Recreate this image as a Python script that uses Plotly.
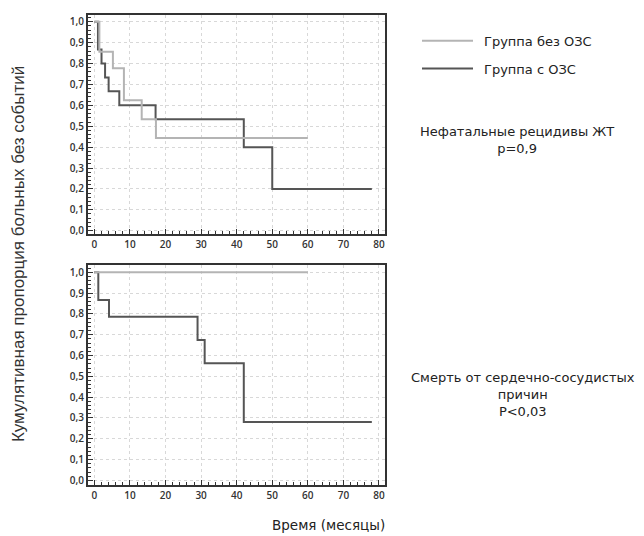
import plotly.graph_objects as go

# ---- data ----
top_light_t = [0, 1.4, 5.2, 8.3, 13.3, 17.3, 60]
top_light_s = [1.0, 0.857, 0.778, 0.625, 0.533, 0.444, 0.444]
top_dark_t = [0, 1, 2, 3, 4, 7, 17.2, 42, 50, 78]
top_dark_s = [1.0, 0.867, 0.80, 0.733, 0.667, 0.60, 0.533, 0.40, 0.20, 0.20]
bot_light_t = [0, 60]
bot_light_s = [1.0, 1.0]
bot_dark_t = [0, 1.1, 4.1, 29, 31, 42, 78]
bot_dark_s = [1.0, 0.867, 0.786, 0.675, 0.5625, 0.281, 0.281]

legend_names = ["Группа без ОЗС", "Группа с ОЗС"]
top_label = "Нефатальные рецидивы ЖТ<br>p=0,9"
bot_label = "Смерть от сердечно-сосудистых<br>причин<br>P<0,03"
x_title = "Время (месяцы)"
y_title = "Кумулятивная пропорция больных без событий"
x_ticks = [0, 10, 20, 30, 40, 50, 60, 70, 80]
y_ticks = [0.0, 0.1, 0.2, 0.3, 0.4, 0.5, 0.6, 0.7, 0.8, 0.9, 1.0]

LIGHT = "#b4b4b4"
DARK = "#555555"
W, H = 644, 536

fig = go.Figure()
fig.add_trace(go.Scatter(x=top_dark_t, y=top_dark_s, mode="lines", line=dict(shape="hv", color=DARK, width=2),
                         xaxis="x", yaxis="y", showlegend=False))
fig.add_trace(go.Scatter(x=top_light_t, y=top_light_s, mode="lines", line=dict(shape="hv", color=LIGHT, width=2),
                         xaxis="x", yaxis="y", showlegend=False))
fig.add_trace(go.Scatter(x=bot_dark_t, y=bot_dark_s, mode="lines", line=dict(shape="hv", color=DARK, width=2),
                         xaxis="x2", yaxis="y2", showlegend=False))
fig.add_trace(go.Scatter(x=bot_light_t, y=bot_light_s, mode="lines", line=dict(shape="hv", color=LIGHT, width=2),
                         xaxis="x2", yaxis="y2", showlegend=False))

def px_x(p):
    return p / W

def px_y(p):
    return 1 - p / H

tickfont = dict(family="Open Sans", size=10, color="#333333", weight=600)
axis_common = dict(
    showline=True, mirror=True, linecolor="#333333", linewidth=2,
    showgrid=True, gridcolor="#d8d8d8", griddash="dot", gridwidth=1,
    zeroline=False, ticks="inside", ticklen=5, tickcolor="#333333", tickwidth=1,
    tickfont=tickfont,
)
xa = dict(axis_common, range=[-1.8, 81.7], tickvals=x_ticks,
          minor=dict(dtick=2, ticks="inside", ticklen=3, tickcolor="#333333", showgrid=False))
ya = dict(axis_common, range=[-0.017, 1.033], tickvals=y_ticks, tickformat=".1f",
          minor=dict(dtick=0.02, ticks="inside", ticklen=3, tickcolor="#333333", showgrid=False))

fig.update_layout(
    width=W, height=H, margin=dict(l=0, r=0, t=0, b=0),
    paper_bgcolor="white", plot_bgcolor="white",
    separators=",.",
    xaxis=dict(xa, domain=[px_x(88), px_x(385)], anchor="y"),
    yaxis=dict(ya, domain=[px_y(235), px_y(14)], anchor="x"),
    xaxis2=dict(xa, domain=[px_x(88), px_x(385)], anchor="y2"),
    yaxis2=dict(ya, range=[-0.024, 1.035], domain=[px_y(488), px_y(266)], anchor="x2"),
)

shapes = []
annotations = []
for i, (name, col) in enumerate(zip(legend_names, [LIGHT, DARK])):
    yy = 40 + i * 28
    shapes.append(dict(type="line", xref="paper", yref="paper", x0=px_x(422), x1=px_x(473),
                       y0=px_y(yy), y1=px_y(yy), line=dict(color=col, width=2)))
    annotations.append(dict(text=name, xref="paper", yref="paper", x=px_x(482), y=px_y(yy + 1),
                            xanchor="left", yanchor="middle", showarrow=False,
                            font=dict(family="DejaVu Sans", size=13, color="#222222")))
annotations.append(dict(text=top_label, xref="paper", yref="paper", x=px_x(517), y=px_y(140),
                        xanchor="center", yanchor="middle", showarrow=False,
                        font=dict(family="DejaVu Sans", size=13, color="#222222")))
annotations.append(dict(text=bot_label, xref="paper", yref="paper", x=px_x(523), y=px_y(396),
                        xanchor="center", yanchor="middle", showarrow=False,
                        font=dict(family="DejaVu Sans", size=13, color="#222222")))
annotations.append(dict(text=x_title, xref="paper", yref="paper", x=px_x(328), y=px_y(528),
                        xanchor="center", yanchor="middle", showarrow=False,
                        font=dict(family="DejaVu Sans", size=13.5, color="#222222")))
annotations.append(dict(text=y_title, xref="paper", yref="paper", x=px_x(18), y=px_y(255),
                        xanchor="center", yanchor="middle", showarrow=False, textangle=-90,
                        font=dict(family="Liberation Sans", size=17, color="#333333")))
fig.update_layout(shapes=shapes, annotations=annotations)

fig.write_html("out.html")
